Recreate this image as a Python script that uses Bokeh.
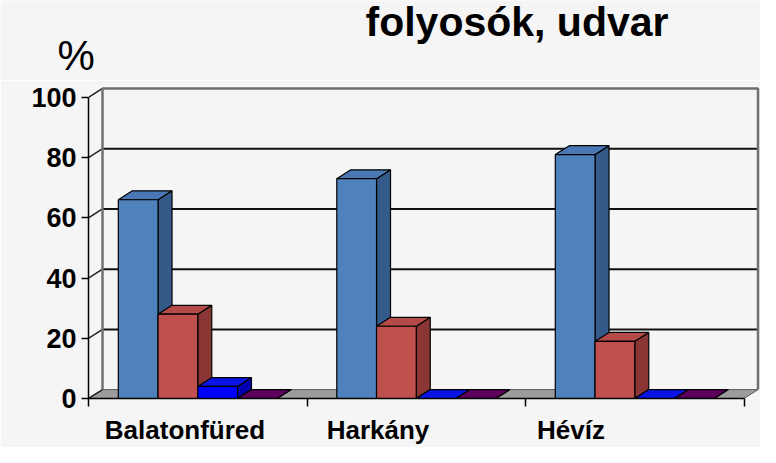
from bokeh.plotting import figure
from bokeh.layouts import column
from bokeh.models import Range1d, LinearAxis, FixedTicker, Label, ColumnDataSource
from bokeh.embed import file_html
from bokeh.resources import INLINE

# ---------------- data ----------------
categories = ["Balatonfüred", "Harkány", "Hévíz"]
series_1 = [66, 73, 81]
series_2 = [28, 24, 19]
series_3 = [4, 0, 0]
series_4 = [0, 0, 0]
y_ticks = [0, 20, 40, 60, 80, 100]
title_text = "folyosók, udvar"
unit_text = "%"

# ---------------- style / layout ----------------
series = [series_1, series_2, series_3, series_4]
front_colors = ["#4F81BD", "#C0504D", "#0000FF", "#660066"]
top_colors = ["#4978B4", "#B54B48", "#0A14E6", "#5C005C"]
side_colors = ["#345A8A", "#8A3634", "#0000B0", "#4A004A"]
BG = "#F5F5F5"
FONT = "Liberation Sans"

W = 760
HEAD_H = 80              # header band with title and unit
H = 367                  # chart band
LEFT, TOP, BOTTOM = 88, 6, 45
FRAME_W = W - LEFT
FRAME_H = H - TOP - BOTTOM
CAT_PX = 218.5          # pixels per category
VAL_PX = 3.05           # pixels per percent
DX_PX, DY_PX = 14, 9    # 3D depth offset
LBL_PX = 193            # spacing of category labels
n_cat = len(categories)
n_ser = len(series)
gap = 1.5
bw = 1.0 / (n_ser + gap)
ddx = DX_PX / CAT_PX
ddy = DY_PX / VAL_PX
x_end = FRAME_W / CAT_PX
y_end = FRAME_H / VAL_PX

# ---------------- header (title, unit) ----------------
head = figure(width=W, height=HEAD_H, x_range=Range1d(0, W), y_range=Range1d(0, HEAD_H),
              title=None, output_backend="svg", toolbar_location=None, x_axis_type=None,
              y_axis_type=None, min_border=0, background_fill_color=BG,
              border_fill_color=BG, outline_line_color=None, frame_align=False)
head.grid.visible = False
head.add_layout(Label(x=365, y=HEAD_H - 21, text=title_text, text_font=FONT,
                      text_font_style="bold", text_font_size="41px",
                      text_baseline="middle", text_align="left", text_color="black"))
head.add_layout(Label(x=57, y=HEAD_H - 55, text=unit_text, text_font=FONT,
                      text_font_size="42px", text_baseline="middle",
                      text_align="left", text_color="black"))

# ---------------- chart ----------------
p = figure(width=W, height=H, x_range=Range1d(0, x_end), y_range=Range1d(0, y_end),
           title=None, output_backend="svg", toolbar_location=None,
           min_border_left=LEFT, min_border_right=0, min_border_top=TOP,
           min_border_bottom=BOTTOM, background_fill_color=BG,
           border_fill_color=BG, outline_line_color=None, frame_align=False)
p.grid.visible = False
p.extra_x_ranges = {"lbl": Range1d(0, FRAME_W / LBL_PX)}

ya = p.yaxis[0]
ya.ticker = FixedTicker(ticks=y_ticks)
ya.bounds = (0, 100)
ya.axis_line_color = "black"
ya.axis_line_width = 1.5
ya.major_tick_out = 7
ya.major_tick_in = 0
ya.major_tick_line_color = "black"
ya.major_tick_line_width = 1.5
ya.minor_tick_line_color = None
ya.major_label_standoff = 5
ya.major_label_text_font = FONT
ya.major_label_text_font_style = "bold"
ya.major_label_text_font_size = "27px"
ya.major_label_text_color = "black"

xa = p.xaxis[0]
xa.ticker = FixedTicker(ticks=[], minor_ticks=list(range(n_cat + 1)))
xa.bounds = (0, n_cat)
xa.axis_line_color = "black"
xa.axis_line_width = 1.5
xa.major_tick_out = 8
xa.major_tick_in = 0
xa.major_tick_line_color = None
xa.minor_tick_out = 8
xa.minor_tick_in = 0
xa.minor_tick_line_color = "black"
xa.minor_tick_line_width = 1.5
xa.major_label_standoff = 0

centers = [i + 0.5 for i in range(n_cat)]
la = LinearAxis(x_range_name="lbl", ticker=FixedTicker(ticks=centers),
                major_label_overrides={c: name for c, name in zip(centers, categories)})
la.axis_line_color = None
la.major_tick_line_color = None
la.minor_tick_line_color = None
la.major_tick_out = 0
la.major_tick_in = 0
la.major_label_standoff = 8
la.major_label_text_font = FONT
la.major_label_text_font_style = "bold"
la.major_label_text_font_size = "26px"
la.major_label_text_color = "black"
p.add_layout(la, "below")

# walls and floor
p.patch([0, 0, ddx, ddx], [0, 100, 100 + ddy, ddy], fill_color=BG, line_color=None)
p.patch([0, n_cat, n_cat + ddx, ddx], [0, 0, ddy, ddy], fill_color="#9C9C9C",
        line_color="#5A5A5A", line_width=1)
inner = [v for v in y_ticks if 0 < v < 100]
p.segment(x0=[ddx] * len(inner), y0=[v + ddy for v in inner],
          x1=[n_cat + ddx] * len(inner), y1=[v + ddy for v in inner],
          line_color="#111111", line_width=2)
p.segment(x0=[0] * len(y_ticks), y0=y_ticks, x1=[ddx] * len(y_ticks),
          y1=[v + ddy for v in y_ticks], line_color="#222222", line_width=1.5)
p.line([ddx, ddx, n_cat + ddx, n_cat + ddx], [ddy, 100 + ddy, 100 + ddy, ddy],
       line_color="#707070", line_width=2.5)

# 3D bars
side_x, side_y, side_c = [], [], []
top_x, top_y, top_c = [], [], []
fl, fr, ft, fc = [], [], [], []
for c in range(n_cat):
    for s in range(n_ser):
        v = series[s][c]
        x0 = c + 0.75 * bw + s * bw
        x1 = x0 + bw
        side_x.append([x1, x1, x1 + ddx, x1 + ddx])
        side_y.append([0, v, v + ddy, ddy])
        side_c.append(side_colors[s])
        top_x.append([x0, x1, x1 + ddx, x0 + ddx])
        top_y.append([v, v, v + ddy, v + ddy])
        top_c.append(top_colors[s])
        fl.append(x0)
        fr.append(x1)
        ft.append(v)
        fc.append(front_colors[s])

p.patches(xs="xs", ys="ys", fill_color="c", line_color="black", line_width=1.2,
          source=ColumnDataSource(dict(xs=side_x, ys=side_y, c=side_c)))
p.patches(xs="xs", ys="ys", fill_color="c", line_color="black", line_width=1.2,
          source=ColumnDataSource(dict(xs=top_x, ys=top_y, c=top_c)))
p.quad(left="l", right="r", bottom=0, top="t", fill_color="c", line_color="black",
       line_width=1.2, source=ColumnDataSource(dict(l=fl, r=fr, t=ft, c=fc)))

layout = column(head, p, spacing=0)
open("out.html", "w").write(file_html(layout, INLINE))
